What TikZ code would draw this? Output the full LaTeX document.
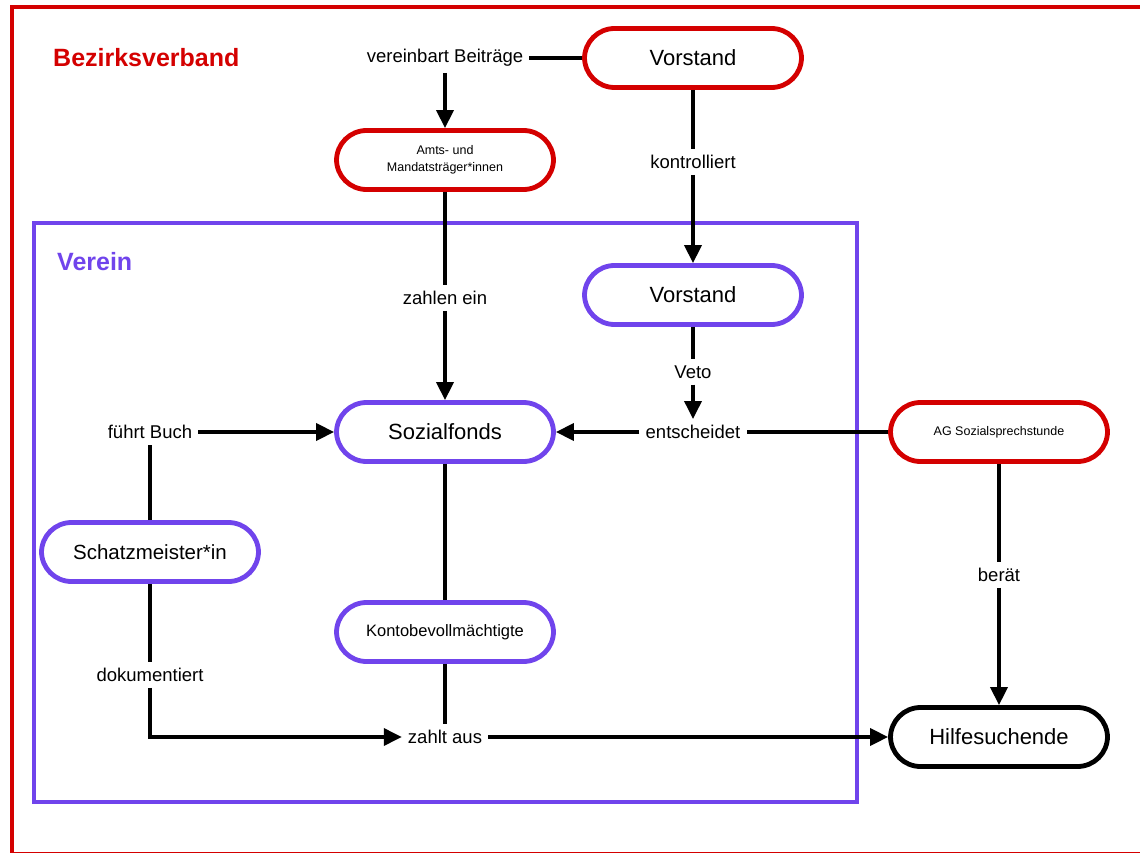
\documentclass[tikz,border=0pt]{standalone}
\usepackage{fontspec}
\setmainfont{Liberation Sans}
\usetikzlibrary{arrows.meta}
\definecolor{bzred}{RGB}{212,0,0}
\definecolor{vpurple}{RGB}{112,68,236}
\begin{document}
\begin{tikzpicture}[x=1pt,y=-1pt,
 box/.style={draw, line width=4.8pt, rounded corners=30pt, minimum width=217pt, minimum height=59pt, fill=white, font=\fontsize{22}{26}\selectfont, align=center, inner sep=0pt},
 redbox/.style={box, draw=bzred},
 purplebox/.style={box, draw=vpurple},
 blackbox/.style={box, draw=black},
 smalltext/.style={font=\fontsize{12.5}{17}\selectfont},
 lbl/.style={font=\fontsize{18.5}{22}\selectfont, inner sep=6pt},
 conn/.style={line width=3.6pt},
 arr/.style={conn, -{Triangle[length=18pt,width=17pt]}},
 title/.style={font=\bfseries\fontsize{25}{30}\selectfont, anchor=west, inner sep=0pt},
]
\useasboundingbox (0,0) rectangle (1140,853);
% frames
\draw[bzred, line width=4.5pt] (12,7) rectangle (1160,854);
\draw[vpurple, line width=3.6pt] (34,223) rectangle (857,802);
\node[title, text=bzred] (bzt) at (53,58) {Bezirksverband};
\node[title, text=vpurple] (vt) at (57,262) {Verein};
% nodes
\node[redbox] (vorR) at (693,58) {Vorstand};
\node[redbox, smalltext] (amts) at (445,160) {Amts- und\\Mandatsträger*innen};
\node[purplebox] (vorP) at (693,295) {Vorstand};
\node[purplebox] (sozial) at (445,432) {Sozialfonds};
\node[redbox, smalltext] (ag) at (999,432) {AG Sozialsprechstunde};
\node[purplebox, font=\fontsize{20.5}{24}\selectfont] (schatz) at (150,552) {Schatzmeister*in};
\node[purplebox, font=\fontsize{16.5}{20}\selectfont] (konto) at (445,632) {Kontobevollmächtigte};
\node[blackbox] (hilfe) at (999,737) {Hilfesuchende};
% labels
\node[lbl] (vb) at (445,58) {vereinbart Beiträge};
\node[lbl] (kontr) at (693,162) {kontrolliert};
\node[lbl] (zahlen) at (445,298) {zahlen ein};
\node[lbl] (veto) at (693,372) {Veto};
\node[lbl] (entsch) at (693,432) {entscheidet};
\node[lbl] (fuehrt) at (150,432) {führt Buch};
\node[lbl] (dok) at (150,675) {dokumentiert};
\node[lbl] (zahlt) at (445,737) {zahlt aus};
\node[lbl] (beraet) at (999,575) {berät};
% connectors
\draw[conn] (vb) -- (vorR);
\draw[arr] (vb) -- (amts);
\draw[conn] (amts) -- (zahlen);
\draw[arr] (zahlen) -- (sozial);
\draw[conn] (vorR) -- (kontr);
\draw[arr] (kontr) -- (vorP);
\draw[conn] (vorP) -- (veto);
\draw[arr] (veto) -- (entsch);
\draw[conn] (ag) -- (entsch);
\draw[arr] (entsch) -- (sozial);
\draw[arr] (fuehrt) -- (sozial);
\draw[conn] (schatz) -- (fuehrt);
\draw[conn] (schatz) -- (dok);
\draw[arr] (dok) |- (zahlt);
\draw[conn] (sozial) -- (konto);
\draw[conn] (konto) -- (zahlt);
\draw[arr] (zahlt) -- (hilfe);
\draw[conn] (ag) -- (beraet);
\draw[arr] (beraet) -- (hilfe);
\end{tikzpicture}
\end{document}
